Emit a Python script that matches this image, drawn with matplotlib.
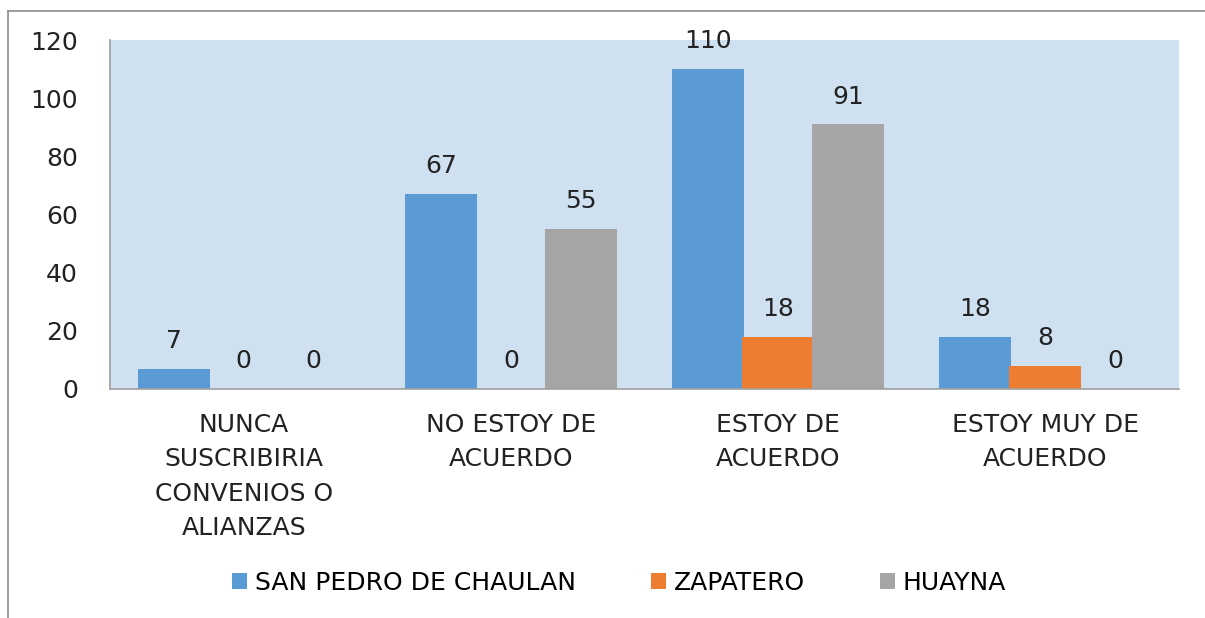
import numpy as np
import matplotlib
matplotlib.use("Agg")
import matplotlib.pyplot as plt
from matplotlib.lines import Line2D

categories = [
    "NUNCA\nSUSCRIBIRIA\nCONVENIOS O\nALIANZAS",
    "NO ESTOY DE\nACUERDO",
    "ESTOY DE\nACUERDO",
    "ESTOY MUY DE\nACUERDO",
]
series_names = ["SAN PEDRO DE CHAULAN", "ZAPATERO", "HUAYNA"]
san_pedro = [7, 67, 110, 18]
zapatero = [0, 0, 18, 8]
huayna = [0, 55, 91, 0]
yticks = [0, 20, 40, 60, 80, 100, 120]

colors = ["#5B9BD5", "#ED7D31", "#A5A5A5"]

plt.rcParams["font.family"] = ["DejaVu Sans"]
FS = 18

fig = plt.figure(figsize=(12.05, 6.18), dpi=100)
ax = fig.add_axes([110 / 1205, 1 - 389 / 618, (1179 - 110) / 1205, (389 - 40) / 618])
ax.set_facecolor("#CFE0F1")

x = np.arange(len(categories))
width = 0.27
step = 0.262
for i, (name, vals) in enumerate(zip(series_names, [san_pedro, zapatero, huayna])):
    pos = x + (i - 1) * step
    ax.bar(pos, vals, width=width, color=colors[i], label=name, zorder=2)
    for px, v in zip(pos, vals):
        ax.annotate(str(v), (px, v), xytext=(0, 20), textcoords="offset points",
                    ha="center", va="center", fontsize=FS, color="#222222")

ax.set_xlim(-0.5, len(categories) - 0.5)
ax.set_ylim(0, 120)
ax.set_yticks(yticks)
ax.set_xticks(x)
ax.set_xticklabels(categories, fontsize=FS, linespacing=1.55, color="#222222")
ax.tick_params(axis="y", length=0, pad=23, labelsize=FS, labelcolor="#222222")
ax.tick_params(axis="x", length=0, pad=17)

for side in ["top", "right"]:
    ax.spines[side].set_visible(False)
for side in ["left", "bottom"]:
    ax.spines[side].set_color("#A0A0A0")
    ax.spines[side].set_linewidth(1.2)

ax.legend(loc="center", bbox_to_anchor=(619 / 1205, 1 - 583 / 618),
          bbox_transform=fig.transFigure, ncol=3, frameon=False,
          fontsize=FS, handlelength=0.6, handleheight=0.6,
          handletextpad=0.3, columnspacing=3.0)

# thin frame around the chart area
bx = 8 / 1205
by = 1 - 11 / 618
fig.add_artist(Line2D([bx, bx], [0, by], color="#8C8C8C", lw=1.2))
fig.add_artist(Line2D([bx, 1], [by, by], color="#8C8C8C", lw=1.2))

fig.savefig("out.png", dpi=100)
